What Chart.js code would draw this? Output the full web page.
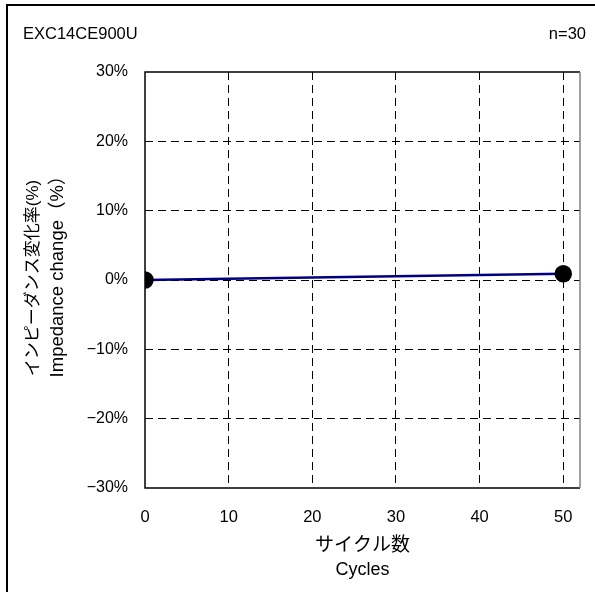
<!DOCTYPE html>
<html>
<head>
<meta charset="utf-8">
<script src="https://cdn.jsdelivr.net/npm/chart.js@4/dist/chart.umd.min.js"></script>
<style>
html,body{margin:0;padding:0;background:#fff;}
canvas{display:block;}
</style>
</head>
<body>
<canvas id="c" width="595" height="592"></canvas>
<script>
// ---- data ----
const cycles = [0, 50];
const impedanceChange = [0, 0.9];
const xTickValues = [0, 10, 20, 30, 40, 50];
const yTickValues = [-30, -20, -10, 0, 10, 20, 30];
const partName = 'EXC14CE900U';
const sampleCount = 'n=30';
const yTitleJa = 'インピーダンス変化率(%)';
const yTitleEn = 'Impedance change（%）';
const xTitleJa = 'サイクル数';
const xTitleEn = 'Cycles';

const FONT = '"Liberation Sans", Arial, "Noto Sans CJK JP", sans-serif';

const points = cycles.map((x, i) => ({x: x, y: impedanceChange[i]}));

const decor = {
  id: 'decor',
  beforeDraw(chart) {
    const ctx = chart.ctx;
    ctx.save();
    ctx.fillStyle = '#fff';
    ctx.fillRect(0, 0, chart.width, chart.height);
    // outer frame (left & top visible)
    ctx.strokeStyle = '#000';
    ctx.lineWidth = 2;
    ctx.beginPath();
    ctx.moveTo(7, 600);
    ctx.lineTo(7, 5);
    ctx.lineTo(600, 5);
    ctx.stroke();
    ctx.restore();
  },
  beforeDatasetsDraw(chart) {
    const ctx = chart.ctx;
    const a = chart.chartArea;
    ctx.save();
    ctx.lineWidth = 1.5;
    ctx.strokeStyle = '#000';
    ctx.beginPath();
    ctx.moveTo(a.right, a.top);
    ctx.lineTo(a.left, a.top);
    ctx.lineTo(a.left, a.bottom);
    ctx.lineTo(a.right, a.bottom);
    ctx.stroke();
    ctx.strokeStyle = '#808080';
    ctx.beginPath();
    ctx.moveTo(a.right, a.top);
    ctx.lineTo(a.right, a.bottom);
    ctx.stroke();
    ctx.restore();
  },
  afterDraw(chart) {
    const ctx = chart.ctx;
    const a = chart.chartArea;
    ctx.save();
    ctx.fillStyle = '#000';
    ctx.textBaseline = 'middle';
    ctx.font = '16.5px ' + FONT;
    ctx.textAlign = 'left';
    ctx.fillText(partName, 23, 34);
    ctx.textAlign = 'right';
    ctx.fillText(sampleCount, 586, 34);
    // x titles
    ctx.textAlign = 'center';
    const cx = (a.left + a.right) / 2;
    ctx.font = '19px ' + FONT;
    ctx.fillText(xTitleJa, cx, 546);
    ctx.font = '18px ' + FONT;
    ctx.fillText(xTitleEn, cx, 570);
    // y titles
    const cy = (a.top + a.bottom) / 2;
    ctx.translate(33, cy - 2);
    ctx.rotate(-Math.PI / 2);
    ctx.font = '17px ' + FONT;
    ctx.fillText(yTitleJa, 0, 0);
    ctx.font = '18.5px ' + FONT;
    ctx.fillText(yTitleEn, 6, 25);
    ctx.restore();
  }
};

new Chart(document.getElementById('c'), {
  type: 'scatter',
  data: {
    datasets: [{
      data: points,
      showLine: true,
      borderColor: '#000080',
      borderWidth: 2.5,
      pointBackgroundColor: '#000',
      pointBorderColor: '#000',
      pointRadius: 7.5,
      pointHoverRadius: 7.5
    }]
  },
  options: {
    responsive: false,
    animation: false,
    devicePixelRatio: 1,
    layout: {padding: {left: 0, top: 72, right: 15, bottom: 0}},
    plugins: {legend: {display: false}, tooltip: {enabled: false}},
    scales: {
      x: {
        type: 'linear',
        min: 0,
        max: 52,
        afterFit(s) { s.height = 104; },
        afterBuildTicks(s) { s.ticks = xTickValues.map(v => ({value: v})); },
        ticks: {
          includeBounds: false,
          padding: 20,
          color: '#000',
          font: {family: FONT, size: 16.5},
          maxRotation: 0
        },
        grid: {
          color: (c) => (c.tick && c.tick.value === 0) ? 'rgba(0,0,0,0)' : '#000',
          lineWidth: 1,
          drawTicks: false
        },
        border: {display: false, dash: [8, 5]}
      },
      y: {
        type: 'linear',
        min: -30,
        max: 30,
        afterFit(s) { s.width = 145; },
        afterBuildTicks(s) { s.ticks = yTickValues.map(v => ({value: v})); },
        ticks: {
          padding: 17,
          color: '#000',
          font: {family: FONT, size: 16},
          callback: (v) => (v < 0 ? '\u2212' + Math.abs(v) : v) + '%'
        },
        grid: {
          color: (c) => (c.tick && Math.abs(c.tick.value) === 30) ? 'rgba(0,0,0,0)' : '#000',
          lineWidth: 1,
          drawTicks: false
        },
        border: {display: false, dash: [8, 5]}
      }
    }
  },
  plugins: [decor]
});
</script>
</body>
</html>
